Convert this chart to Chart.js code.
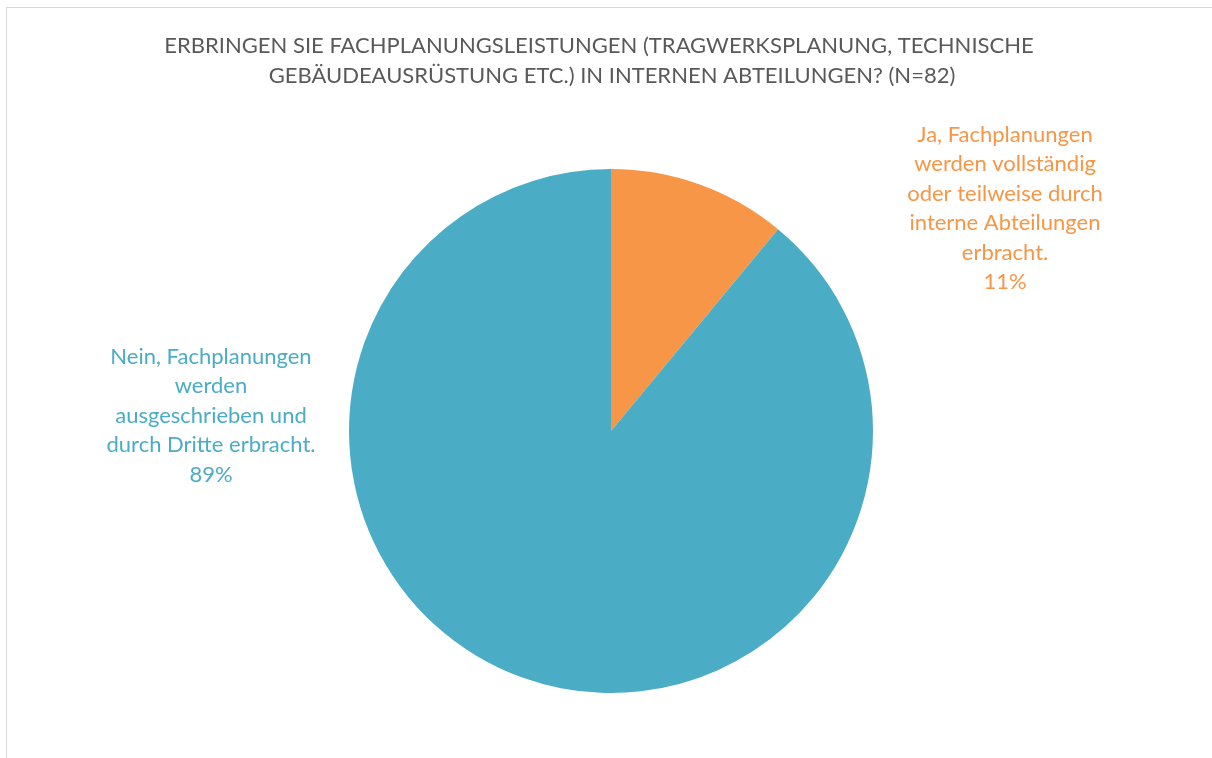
<!DOCTYPE html>
<html>
<head>
<meta charset="utf-8">
<script src="https://cdn.jsdelivr.net/npm/chart.js@4/dist/chart.umd.min.js"></script>
<style>
  html, body { margin: 0; padding: 0; background: #fff; }
  #wrap { position: relative; width: 1212px; height: 758px; overflow: hidden; }
  #frame { position: absolute; left: 6px; top: 7px; width: 1300px; height: 900px; border: 1px solid #d9d9d9; }
  canvas { position: absolute; left: 0; top: 0; }
</style>
</head>
<body>
<div id="wrap">
  <div id="frame"></div>
  <canvas id="PieChart" width="1212" height="758"></canvas>
</div>
<script>
const titleLines = [
  'ERBRINGEN SIE FACHPLANUNGSLEISTUNGEN (TRAGWERKSPLANUNG, TECHNISCHE',
  'GEBÄUDEAUSRÜSTUNG ETC.) IN INTERNEN ABTEILUNGEN? (N=82)'
];
const categories = [
  ['Ja, Fachplanungen', 'werden vollständig', 'oder teilweise durch', 'interne Abteilungen', 'erbracht.'],
  ['Nein, Fachplanungen', 'werden', 'ausgeschrieben und', 'durch Dritte erbracht.']
];
const shares = [11, 89];
const colors = ['#F79646', '#4BACC6'];
// where each label block is centred (canvas px)
const labelSpots = [[1005, 135], [211, 357]];

const fontFamily = 'Lato, "Open Sans", sans-serif';

const labelPlugin = {
    id: 'pieLabels',
    afterDraw(chart) {
        const ctx = chart.ctx;
        ctx.save();
        ctx.textAlign = 'center';
        ctx.textBaseline = 'middle';

        // title
        ctx.fillStyle = '#595959';
        ctx.font = '22px ' + fontFamily;
        ctx.fillText(titleLines[0], 599, 46);
        ctx.fillText(titleLines[1], 612, 76);

        // data labels
        ctx.font = '22px ' + fontFamily;
        const meta = chart.getDatasetMeta(0);
        meta.data.forEach((arc, i) => {
            const lines = categories[i].concat([shares[i] + '%']);
            ctx.fillStyle = colors[i];
            const [x, y] = labelSpots[i];
            lines.forEach((ln, k) => ctx.fillText(ln, x, y + k * 29.4));
        });
        ctx.restore();
    }
};

const ctx = document.getElementById('PieChart').getContext('2d');
new Chart(ctx, {
    type: 'pie',
    data: {
        labels: categories.map(c => c.join(' ')),
        datasets: [{
            data: shares,
            backgroundColor: colors,
            borderWidth: 0
        }]
    },
    options: {
        responsive: false,
        animation: false,
        layout: { padding: { top: 169, bottom: 65, left: 10, right: 0 } },
        plugins: {
            legend: { display: false },
            title: { display: false },
            tooltip: { enabled: false }
        }
    },
    plugins: [labelPlugin]
});
</script>
</body>
</html>
